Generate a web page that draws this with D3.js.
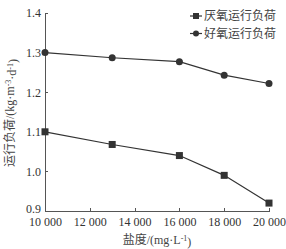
<!DOCTYPE html>
<html lang="zh">
<head>
<meta charset="UTF-8">
<title>盐度与运行负荷</title>
<script src="https://cdn.jsdelivr.net/npm/d3@7"></script>
<style>
    body { margin: 0; background: #fff; }
    .axis path, .axis line { fill: none; stroke: #555; stroke-width: 1; shape-rendering: crispEdges; }
    .axis text { font-family: "Liberation Serif", serif; font-size: 12px; fill: #333; }
    .cjk { font-family: "Noto Sans CJK SC", sans-serif; }
    .lat { font-family: "Liberation Serif", serif; }
</style>
</head>
<body>
<div id="output"></div>
<script>
// salinity (mg/L)
var salinity = [10000, 13000, 16000, 18000, 20000];
var anaerobicLoad = [1.10, 1.068, 1.04, 0.99, 0.92];
var aerobicLoad = [1.30, 1.287, 1.277, 1.243, 1.222];
var seriesNames = ["厌氧运行负荷", "好氧运行负荷"];
var xTicks = [10000, 12000, 14000, 16000, 18000, 20000];
var yTicks = [0.9, 1.0, 1.1, 1.2, 1.3, 1.4];

var w = 286, h = 249;

var svg = d3.select("#output").append("svg")
    .attr("width", w).attr("height", h);

var xScale = d3.scaleLinear().domain([10000, 20000]).range([45, 269]);
var yScale = d3.scaleLinear().domain([0.9, 1.4]).range([211, 13]);

var loc = d3.formatLocale({decimal: ".", thousands: " ", grouping: [3], currency: ["", ""]});
var fmtX = loc.format(",");

var xAxisGen = d3.axisBottom(xScale).tickValues(xTicks).tickFormat(fmtX)
    .tickSizeInner(-3).tickSizeOuter(0).tickPadding(6);
var yAxisGen = d3.axisLeft(yScale).tickValues(yTicks).tickFormat(d3.format(".1f"))
    .tickSizeInner(-3).tickSizeOuter(0).tickPadding(4);

svg.append("g").attr("class", "axis")
    .attr("transform", "translate(0," + yScale(0.9) + ")")
    .call(xAxisGen);

var yAxis = svg.append("g").attr("class", "axis")
    .attr("transform", "translate(" + xScale(10000) + ",0)")
    .call(yAxisGen);

// lowest y label sits a little above the corner, as in the source
yAxis.selectAll(".tick text")
    .filter(function(d){ return d === 0.9; })
    .attr("dy", "0.1em");

var line = d3.line()
    .x(function(d){ return xScale(d[0]); })
    .y(function(d){ return yScale(d[1]); });

var series = [
    { name: seriesNames[0], values: d3.zip(salinity, anaerobicLoad), marker: "square" },
    { name: seriesNames[1], values: d3.zip(salinity, aerobicLoad), marker: "circle" }
];

var lineColor = "#333";

series.forEach(function(s){
    svg.append("path")
        .attr("d", line(s.values))
        .attr("fill", "none")
        .attr("stroke", lineColor)
        .attr("stroke-width", 1.2);

    if (s.marker === "square") {
        svg.selectAll(null).data(s.values).enter().append("rect")
            .attr("x", function(d){ return xScale(d[0]) - 3.5; })
            .attr("y", function(d){ return yScale(d[1]) - 3.5; })
            .attr("width", 7).attr("height", 7)
            .attr("fill", lineColor);
    } else {
        svg.selectAll(null).data(s.values).enter().append("circle")
            .attr("cx", function(d){ return xScale(d[0]); })
            .attr("cy", function(d){ return yScale(d[1]); })
            .attr("r", 3.5)
            .attr("fill", lineColor);
    }
});

// legend
var legend = svg.append("g").attr("transform", "translate(190,16)");
series.forEach(function(s, i){
    var g = legend.append("g").attr("transform", "translate(0," + (i * 17.5) + ")");
    g.append("line").attr("x1", 0).attr("x2", 12).attr("y1", 0).attr("y2", 0)
        .attr("stroke", lineColor).attr("stroke-width", 1.2);
    if (s.marker === "square") {
        g.append("rect").attr("x", 3).attr("y", -3).attr("width", 6).attr("height", 6).attr("fill", lineColor);
    } else {
        g.append("circle").attr("cx", 6).attr("cy", 0).attr("r", 3).attr("fill", lineColor);
    }
    g.append("text").attr("class", "cjk").attr("x", 14).attr("y", 0).attr("dy", "0.35em")
        .style("font-size", "12px").attr("fill", "#444")
        .text(s.name);
});

// axis titles: CJK part in sans, units in serif
var xTitle = svg.append("text")
    .attr("x", 157).attr("y", 244)
    .attr("text-anchor", "middle")
    .style("font-size", "12px").attr("fill", "#444");
xTitle.append("tspan").attr("class", "cjk").text("盐度");
xTitle.append("tspan").attr("class", "lat").text("/(mg·L");
xTitle.append("tspan").attr("class", "lat").attr("dy", "-0.4em").style("font-size", "8px").text("-1");
xTitle.append("tspan").attr("class", "lat").attr("dy", "0.4em").text(")");

var yTitle = svg.append("text")
    .attr("transform", "translate(10,113) rotate(-90)")
    .attr("dy", "0.35em")
    .attr("text-anchor", "middle")
    .style("font-size", "12px").attr("fill", "#444");
yTitle.append("tspan").attr("class", "cjk").text("运行负荷");
yTitle.append("tspan").attr("class", "lat").text("/(kg·m");
yTitle.append("tspan").attr("class", "lat").attr("dy", "-0.4em").style("font-size", "8px").text("-3");
yTitle.append("tspan").attr("class", "lat").attr("dy", "0.4em").text("·d");
yTitle.append("tspan").attr("class", "lat").attr("dy", "-0.4em").style("font-size", "8px").text("-1");
yTitle.append("tspan").attr("class", "lat").attr("dy", "0.4em").text(")");
</script>
</body>
</html>
